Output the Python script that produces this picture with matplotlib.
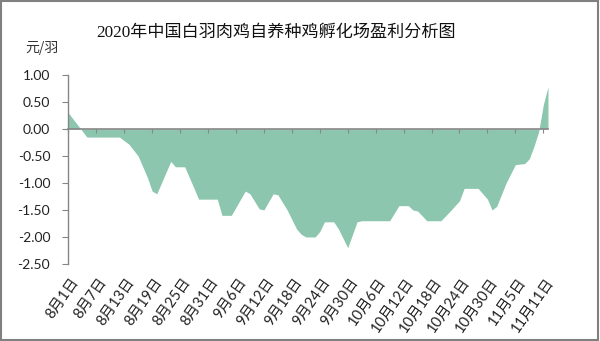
import numpy as np
import pandas as pd
import matplotlib
matplotlib.use("Agg")
from matplotlib import pyplot as plt
from matplotlib.patches import Rectangle
import matplotlib.transforms as mtransforms

# Data (dates where the profile bends, 元/羽)
dates = ["2020-08-01", "2020-08-05", "2020-08-12", "2020-08-14", "2020-08-16",
         "2020-08-18", "2020-08-19", "2020-08-20", "2020-08-23", "2020-08-24",
         "2020-08-26", "2020-08-29", "2020-09-02", "2020-09-03", "2020-09-05",
         "2020-09-08", "2020-09-09", "2020-09-11", "2020-09-12", "2020-09-14",
         "2020-09-15", "2020-09-17", "2020-09-19", "2020-09-20", "2020-09-21",
         "2020-09-23", "2020-09-24", "2020-09-25", "2020-09-27", "2020-09-28",
         "2020-09-30", "2020-10-02", "2020-10-03", "2020-10-09", "2020-10-11",
         "2020-10-13", "2020-10-14", "2020-10-15", "2020-10-17", "2020-10-20",
         "2020-10-22", "2020-10-24", "2020-10-25", "2020-10-28", "2020-10-30",
         "2020-10-31", "2020-11-01", "2020-11-03", "2020-11-04", "2020-11-05",
         "2020-11-07", "2020-11-08", "2020-11-09", "2020-11-10", "2020-11-11",
         "2020-11-12"]
profit = [0.30, -0.15, -0.15, -0.28, -0.50,
          -0.90, -1.15, -1.20, -0.60, -0.70,
          -0.70, -1.30, -1.30, -1.60, -1.60,
          -1.15, -1.20, -1.48, -1.50, -1.20,
          -1.22, -1.50, -1.85, -1.95, -2.00,
          -2.00, -1.90, -1.72, -1.72, -1.85,
          -2.20, -1.72, -1.70, -1.70, -1.42,
          -1.42, -1.50, -1.52, -1.70, -1.70,
          -1.52, -1.33, -1.10, -1.10, -1.30,
          -1.50, -1.43, -1.00, -0.83, -0.66,
          -0.64, -0.55, -0.32, -0.05, 0.45,
          0.78]

tick_dates = ["2020-08-01", "2020-08-07", "2020-08-13", "2020-08-19", "2020-08-25",
              "2020-08-31", "2020-09-06", "2020-09-12", "2020-09-18", "2020-09-24",
              "2020-09-30", "2020-10-06", "2020-10-12", "2020-10-18", "2020-10-24",
              "2020-10-30", "2020-11-05", "2020-11-11"]
tick_labels = ["8月1日", "8月7日", "8月13日", "8月19日", "8月25日", "8月31日",
               "9月6日", "9月12日", "9月18日", "9月24日", "9月30日", "10月6日",
               "10月12日", "10月18日", "10月24日", "10月30日", "11月5日", "11月11日"]

title = "2020年中国白羽肉鸡自养种鸡孵化场盈利分析图"
unit = "元/羽"

cjk = ["Lato", "Noto Sans CJK SC", "DejaVu Sans"]
plt.rcParams["font.family"] = cjk

x = pd.to_datetime(dates)
xt = pd.to_datetime(tick_dates)
axis_gray = "#868686"

fig = plt.figure(figsize=(6.0, 3.41), dpi=100)
ax = fig.add_axes([0.1138, 0.226, 0.7995, 0.554])

ax.fill_between(x, profit, 0, color="#8cc6ae", lw=0)

ax.set_ylim(-2.5, 1.0)
ax.set_yticks(np.arange(-2.5, 1.01, 0.5))
ax.yaxis.set_major_formatter(matplotlib.ticker.FormatStrFormatter("%.2f"))
ax.set_xlim(pd.Timestamp("2020-08-01"), pd.Timestamp("2020-11-12"))
ax.set_xticks(xt)
ax.set_xticklabels([])

for s in ["top", "right"]:
    ax.spines[s].set_visible(False)
ax.spines["left"].set_color(axis_gray)
ax.spines["left"].set_linewidth(1.0)
ax.spines["bottom"].set_position(("data", 0))
ax.spines["bottom"].set_color(axis_gray)
ax.spines["bottom"].set_linewidth(1.2)
ax.set_zorder(2)
ax.patch.set_alpha(0)

ax.tick_params(axis="y", direction="out", length=4, color=axis_gray,
               labelsize=10, pad=9, labelcolor="#222222")
ax.tick_params(axis="x", direction="out", length=3, color=axis_gray)

# date labels sit under the plot area, not on the zero line
trans = mtransforms.blended_transform_factory(ax.transData, ax.transAxes)
trans = trans + mtransforms.ScaledTranslation(2 / 100, 0, fig.dpi_scale_trans)
for d, lab in zip(xt, tick_labels):
    ax.text(d, -0.06, lab, transform=trans, rotation=55, ha="right", va="top",
            rotation_mode="anchor", fontsize=10.5, color="#222222")

fig.text(0.46, 0.903, title, ha="center", va="center", fontsize=12.3,
         family=["Liberation Serif", "Noto Sans CJK SC"], color="#111111")
fig.text(0.042, 0.858, unit, ha="left", va="center", fontsize=10, color="#333333",
         family=["Noto Sans CJK SC", "DejaVu Sans"])

fig.patches.append(Rectangle((0.002, 0.004), 0.994, 0.992, transform=fig.transFigure,
                             fill=False, edgecolor="#808080", lw=1.5))

fig.savefig("out.png", dpi=100)
